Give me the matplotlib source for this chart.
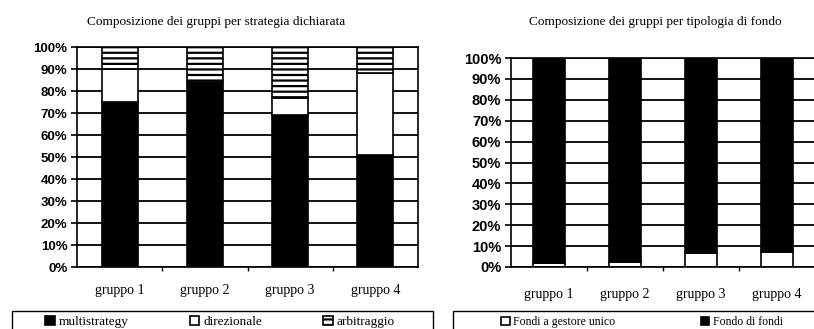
import matplotlib
matplotlib.use("Agg")
import matplotlib.pyplot as plt
import numpy as np
from matplotlib.patches import Rectangle
from matplotlib.ticker import MultipleLocator, PercentFormatter, FixedLocator, NullFormatter

plt.rcParams['hatch.linewidth'] = 1.6
plt.rcParams['hatch.color'] = 'black'

gruppi = ['gruppo 1', 'gruppo 2', 'gruppo 3', 'gruppo 4']

# strategia dichiarata (% per gruppo)
multistrategy = [75, 84, 69, 51]
direzionale = [15, 0, 8, 37]
arbitraggio = [10, 16, 23, 12]

# tipologia di fondo (% per gruppo)
gestore_unico = [2, 2.5, 6.5, 7]
fondo_di_fondi = [98, 97.5, 93.5, 93]

W, H = 814, 329
fig = plt.figure(figsize=(W / 100, H / 100), dpi=100)

serif = 'Liberation Serif'
sans = 'Liberation Sans'


def px_axes(x0, y0, x1, y1):
    return fig.add_axes([x0 / W, 1 - y1 / H, (x1 - x0) / W, (y1 - y0) / H])


def style_axes(ax, tick_size, label_pad):
    ax.set_ylim(0, 100)
    ax.set_xlim(-0.5, 3.5)
    ax.yaxis.set_major_locator(MultipleLocator(10))
    ax.yaxis.set_major_formatter(PercentFormatter(decimals=0))
    ax.grid(axis='y', color='black', linewidth=1.3)
    ax.set_axisbelow(True)
    for s in ax.spines.values():
        s.set_linewidth(1.2)
        s.set_color('black')
    ax.tick_params(axis='y', direction='out', length=4, width=1.2, pad=3)
    for lab in ax.get_yticklabels():
        lab.set_fontfamily(sans)
        lab.set_fontsize(tick_size)
        lab.set_fontweight('bold')
    # category labels sit between the boundary ticks
    ax.set_xticks(range(len(gruppi)))
    ax.set_xticklabels(gruppi, fontfamily=serif, fontsize=10)
    ax.tick_params(axis='x', which='major', length=0, pad=label_pad)
    ax.xaxis.set_minor_locator(FixedLocator([0.5, 1.5, 2.5]))
    ax.xaxis.set_minor_formatter(NullFormatter())
    ax.tick_params(axis='x', which='minor', direction='out', length=3, width=1.0)


x = np.arange(len(gruppi))

# --- left: strategia dichiarata ---
ax1 = px_axes(77, 47, 418, 267)
bw = 0.42
h1 = ax1.bar(x, multistrategy, bw, color='black', edgecolor='black', linewidth=1.2,
             label='multistrategy')
h2 = ax1.bar(x, direzionale, bw, bottom=multistrategy, color='white', edgecolor='black',
             linewidth=1.2, label='direzionale')
bottom3 = np.array(multistrategy) + np.array(direzionale)
h3 = ax1.bar(x, arbitraggio, bw, bottom=bottom3, color='white', edgecolor='black',
             linewidth=1.2, hatch='---', label='arbitraggio')
style_axes(ax1, 9.5, 12)

# --- right: tipologia di fondo ---
ax2 = px_axes(511, 58, 815, 267)
bw2 = 0.43
g1 = ax2.bar(x, gestore_unico, bw2, color='white', edgecolor='black', linewidth=1.2,
             label='Fondi a gestore unico')
g2 = ax2.bar(x, fondo_di_fondi, bw2, bottom=gestore_unico, color='black', edgecolor='black',
             linewidth=1.2, label='Fondo di fondi')
style_axes(ax2, 10.5, 15)

# titles
fig.text(216 / W, 1 - 22 / H, 'Composizione dei gruppi per strategia dichiarata',
         ha='center', va='center', fontfamily=serif, fontsize=9.5)
fig.text(655 / W, 1 - 22 / H, 'Composizione dei gruppi per tipologia di fondo',
         ha='center', va='center', fontfamily=serif, fontsize=9.5)

# legend frames, running off the bottom edge
for x0, x1 in [(12, 433), (453, 830)]:
    fig.patches.append(Rectangle((x0 / W, -0.05), (x1 - x0) / W, 0.05 + 1 - 311 / H,
                                 transform=fig.transFigure, fill=False,
                                 edgecolor='black', linewidth=1.0))

leg_kw = dict(frameon=False, loc='center', handlelength=0.75, handleheight=0.75,
              handletextpad=0.3, borderpad=0, borderaxespad=0)
fig.legend(handles=[h1, h2, h3], ncol=3, columnspacing=4.6,
           bbox_to_anchor=(220 / W, 1 - 322 / H), prop={'family': serif, 'size': 9.5},
           **leg_kw)
fig.legend(handles=[g1, g2], ncol=2, columnspacing=7.2,
           bbox_to_anchor=(642 / W, 1 - 322 / H), prop={'family': serif, 'size': 8.5},
           **leg_kw)

fig.savefig('out.png', dpi=100)
